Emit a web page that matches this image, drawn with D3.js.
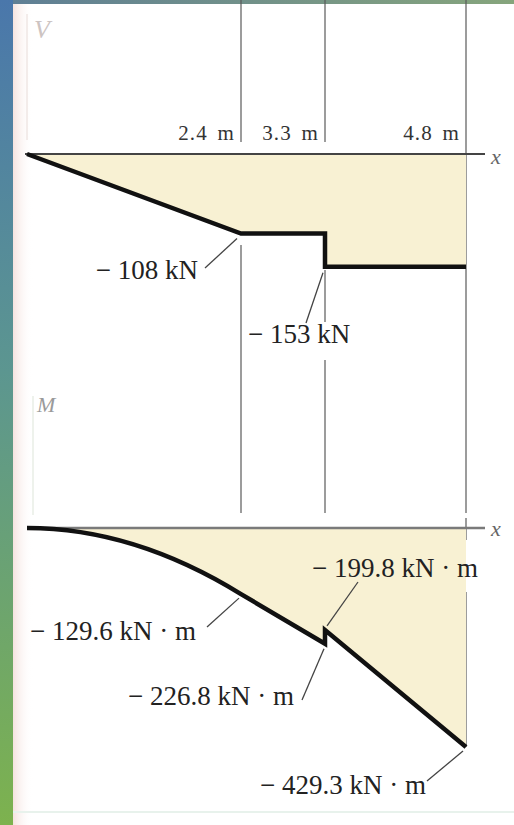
<!DOCTYPE html>
<html>
<head>
<meta charset="utf-8">
<script src="https://cdn.jsdelivr.net/npm/d3@7"></script>
<style>
  html, body { margin: 0; padding: 0; background: #fff; }
  svg { display: block; }
</style>
</head>
<body>
<svg id="chart" width="514" height="825"></svg>
<script>
// Beam stations (m) and the labels written above them
const stations = [0, 2.4, 3.3, 4.8];
const stationLabels = ["2.4 m", "3.3 m", "4.8 m"];

// Shear diagram V (kN): vertices of the piecewise-linear diagram
const shearX = [0, 2.4, 3.3, 3.3, 4.8];
const shearV = [0, -108, -108, -153, -153];

// Bending-moment diagram M (kN·m): vertices; first span is parabolic
const momentX = [0, 2.4, 3.3, 3.3, 4.8];
const momentM = [0, -129.6, -226.8, -199.8, -429.3];

// Which values get a callout
const shearCallouts = [1, 3];          // indices into shearV
const momentCallouts = [1, 2, 3, 4];   // indices into momentM

const W = 514, H = 825;
const svg = d3.select("#chart");
const defs = svg.append("defs");

const SERIF = "'Liberation Serif', 'Times New Roman', serif";
const FILL = "#f8f1d3";
const INK = "#222";
const GRID = "#5a5a5a";

// ---------- page frame ----------
const side = defs.append("linearGradient").attr("id", "side")
  .attr("x1", 0).attr("y1", 0).attr("x2", 0).attr("y2", 1);
side.append("stop").attr("offset", 0).attr("stop-color", "#4a77ab");
side.append("stop").attr("offset", 0.45).attr("stop-color", "#5c9690");
side.append("stop").attr("offset", 1).attr("stop-color", "#7db24e");
const topBar = defs.append("linearGradient").attr("id", "topBar")
  .attr("x1", 0).attr("y1", 0).attr("x2", 1).attr("y2", 0);
topBar.append("stop").attr("offset", 0).attr("stop-color", "#5f7f95");
topBar.append("stop").attr("offset", 1).attr("stop-color", "#86a57c");
const blush = defs.append("linearGradient").attr("id", "blush")
  .attr("x1", 0).attr("y1", 0).attr("x2", 1).attr("y2", 0);
blush.append("stop").attr("offset", 0).attr("stop-color", "#f5e3df");
blush.append("stop").attr("offset", 1).attr("stop-color", "#ffffff").attr("stop-opacity", 0);

svg.append("rect").attr("width", W).attr("height", H).attr("fill", "#fff");
svg.append("rect").attr("x", 13).attr("y", 0).attr("width", 20).attr("height", H).attr("fill", "url(#blush)");
svg.append("rect").attr("x", 0).attr("y", 0).attr("width", 13).attr("height", H).attr("fill", "url(#side)");
svg.append("rect").attr("x", 13).attr("y", 0).attr("width", W - 13).attr("height", 4).attr("fill", "url(#topBar)");
svg.append("rect").attr("x", 13).attr("y", 811).attr("width", W - 13).attr("height", 2).attr("fill", "#e8f2ec");

// ---------- scales ----------
const x = d3.scaleLinear().domain(stations).range([27, 241, 325, 466]);
const yV = d3.scaleLinear().domain([0, -150]).range([154, 264.5]);
const yM = d3.scaleLinear().domain([0, d3.min(momentM)]).range([528, 747]);

const xEnd = 485;

// ---------- station grid lines ----------
const gridSegments = {
  "2.4": [[0, 142], [245, 513], [541, 578]],
  "3.3": [[0, 142], [270, 322], [360, 513], [540, 605]],
  "4.8": [[0, 513], [518, 540], [592, 747]]
};
const gridG = svg.append("g").attr("stroke", GRID).attr("stroke-width", 1.2);
stations.slice(1).forEach(s => {
  gridSegments[String(s)].forEach(([a, b]) => {
    gridG.append("line").attr("x1", x(s)).attr("x2", x(s)).attr("y1", a).attr("y2", b);
  });
});

// station labels above the shear axis
svg.append("g").selectAll("text").data(stationLabels).join("text")
  .attr("x", (d, i) => x(stations[i + 1]) - 6)
  .attr("y", 140)
  .attr("text-anchor", "end")
  .attr("font-family", SERIF).attr("font-size", 21)
  .attr("letter-spacing", 1.2).attr("word-spacing", 3)
  .attr("fill", "#333")
  .text(d => d);

// ---------- shear diagram ----------
const shearPts = shearX.map((sx, i) => [sx, shearV[i]]);
svg.append("path")
  .datum(shearPts)
  .attr("fill", FILL)
  .attr("d", d3.area().x(d => x(d[0])).y0(yV(0)).y1(d => yV(d[1])));

// faint vertical V axis
svg.append("line").attr("x1", 27).attr("x2", 27).attr("y1", 14).attr("y2", 140)
  .attr("stroke", "#f3ecea").attr("stroke-width", 2);

svg.append("line")
  .attr("x1", x(0) - 2).attr("x2", xEnd).attr("y1", yV(0)).attr("y2", yV(0))
  .attr("stroke", "#444").attr("stroke-width", 2);

svg.append("path")
  .datum(shearPts)
  .attr("fill", "none").attr("stroke", "#111").attr("stroke-width", 4.5)
  .attr("stroke-linejoin", "miter")
  .attr("d", d3.line().x(d => x(d[0])).y(d => yV(d[1])));

svg.append("text").attr("x", 34).attr("y", 38)
  .attr("font-family", SERIF).attr("font-style", "italic").attr("font-size", 26)
  .attr("fill", "#cdc4c2").text("V");
svg.append("text").attr("x", 491).attr("y", 164)
  .attr("font-family", SERIF).attr("font-style", "italic").attr("font-size", 22)
  .attr("fill", "#666").text("x");

// ---------- moment diagram ----------
function momentPath(close) {
  const p = d3.path();
  p.moveTo(x(momentX[0]), yM(momentM[0]));
  // zero slope at the free end: control point at mid-span on the axis
  const cx = (momentX[0] + momentX[1]) / 2;
  p.quadraticCurveTo(x(cx), yM(momentM[0]), x(momentX[1]), yM(momentM[1]));
  for (let i = 2; i < momentX.length; i++) p.lineTo(x(momentX[i]), yM(momentM[i]));
  if (close) {
    p.lineTo(x(momentX[momentX.length - 1]), yM(0));
    p.closePath();
  }
  return p.toString();
}

svg.append("path").attr("fill", FILL).attr("d", momentPath(true));

svg.append("line").attr("x1", 33).attr("x2", 33).attr("y1", 396).attr("y2", 515)
  .attr("stroke", "#eef2ec").attr("stroke-width", 2);

svg.append("line")
  .attr("x1", x(0) + 2).attr("x2", xEnd).attr("y1", yM(0)).attr("y2", yM(0))
  .attr("stroke", "#7a7a7a").attr("stroke-width", 2.6);

svg.append("path").attr("fill", "none").attr("stroke", "#111")
  .attr("stroke-width", 4.5).attr("stroke-linejoin", "miter")
  .attr("d", momentPath(false));

svg.append("text").attr("x", 37).attr("y", 412)
  .attr("font-family", SERIF).attr("font-style", "italic").attr("font-size", 22)
  .attr("fill", "#9a9a9a").text("M");
svg.append("text").attr("x", 491).attr("y", 536)
  .attr("font-family", SERIF).attr("font-style", "italic").attr("font-size", 22)
  .attr("fill", "#666").text("x");

// ---------- callouts ----------
const fmtV = v => (v < 0 ? "\u2212 " : "") + Math.abs(v) + " kN";
const fmtM = v => (v < 0 ? "\u2212 " : "") + d3.format(".1f")(Math.abs(v)) + " kN \u00b7 m";

// text anchor point and leader start for each callout
const shearLayout = {
  1: { tx: 198, ty: 279, anchor: "end", from: [205, 268], to: [-4, 5] },
  3: { tx: 248, ty: 343, anchor: "start", from: [306, 323], to: [-2, 6] }
};
const momentLayout = {
  1: { tx: 30, ty: 640, from: [207, 627], to: [-2, 4] },
  2: { tx: 128, ty: 705, from: [302, 700], to: [-1, 5] },
  3: { tx: 312, ty: 577, from: [358, 582], to: [2, -4] },
  4: { tx: 260, ty: 794, from: [427, 781], to: [-3, 4] }
};

const calloutG = svg.append("g");
shearCallouts.forEach(i => {
  const L = shearLayout[i];
  calloutG.append("line")
    .attr("x1", L.from[0]).attr("y1", L.from[1])
    .attr("x2", x(shearX[i]) + L.to[0]).attr("y2", yV(shearV[i]) + L.to[1])
    .attr("stroke", "#444").attr("stroke-width", 1.3);
  calloutG.append("text")
    .attr("x", L.tx).attr("y", L.ty).attr("text-anchor", L.anchor)
    .attr("font-family", SERIF).attr("font-size", 27).attr("fill", INK)
    .text(fmtV(shearV[i]));
});
momentCallouts.forEach(i => {
  const L = momentLayout[i];
  calloutG.append("line")
    .attr("x1", L.from[0]).attr("y1", L.from[1])
    .attr("x2", x(momentX[i]) + L.to[0]).attr("y2", yM(momentM[i]) + L.to[1])
    .attr("stroke", "#444").attr("stroke-width", 1.3);
  calloutG.append("text")
    .attr("x", L.tx).attr("y", L.ty)
    .attr("font-family", SERIF).attr("font-size", 27).attr("fill", INK)
    .text(fmtM(momentM[i]));
});
</script>
</body>
</html>
